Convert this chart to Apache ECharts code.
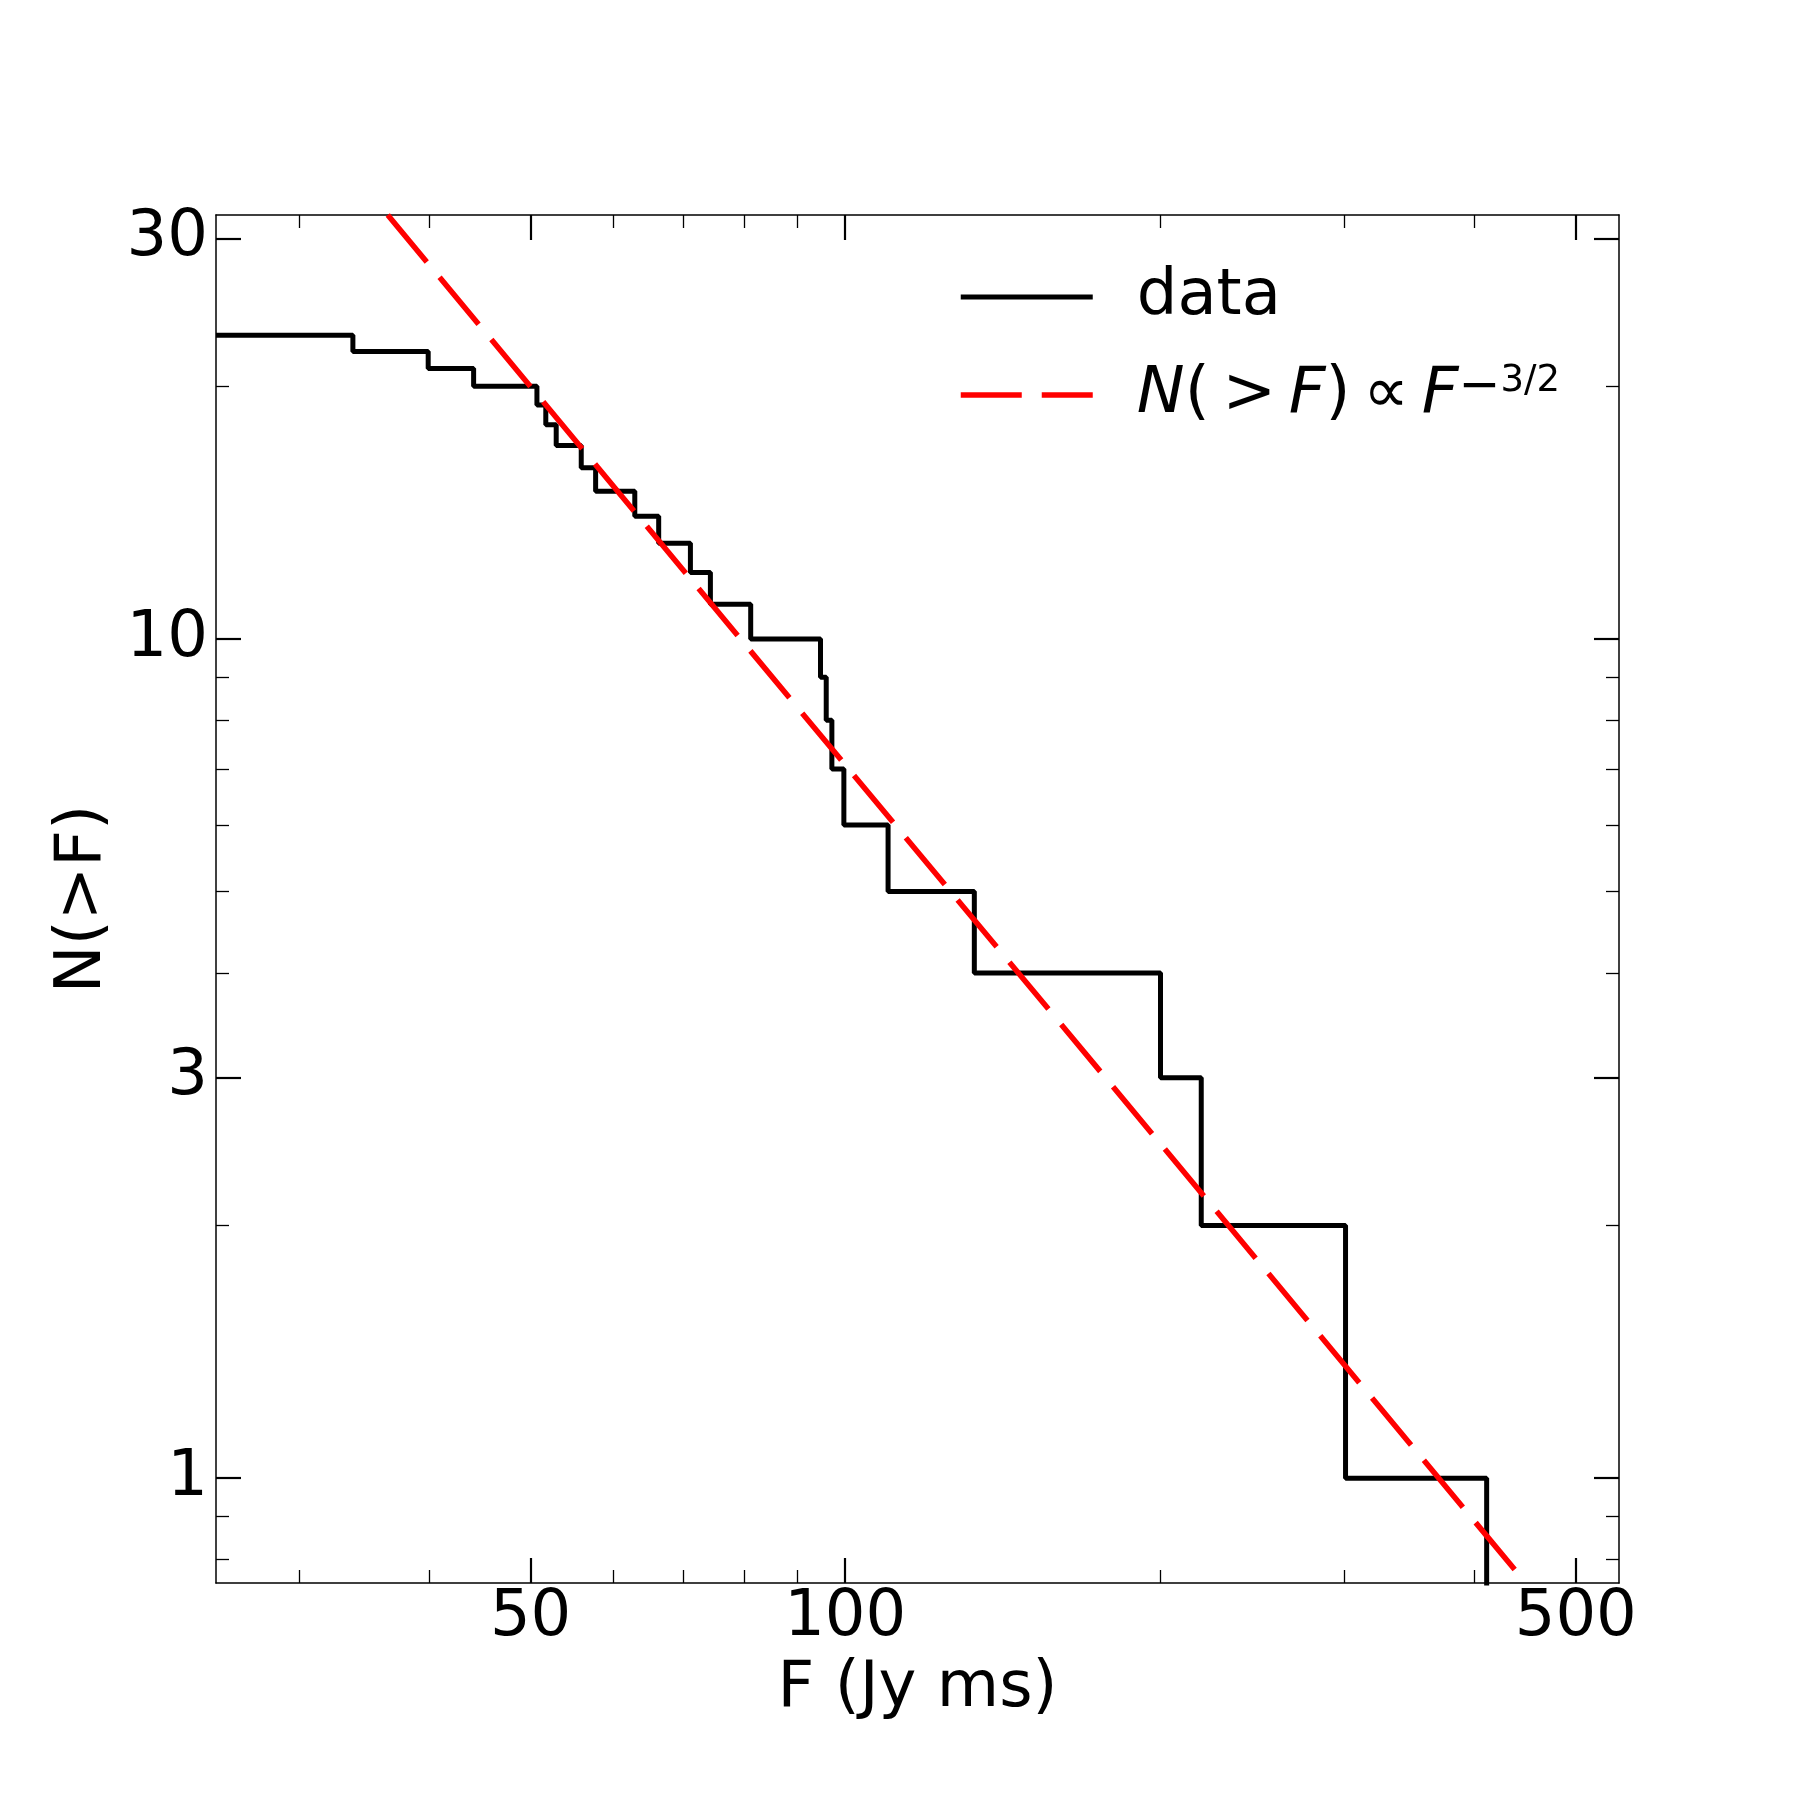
<!DOCTYPE html>
<html>
<head>
<meta charset="utf-8">
<script src="https://cdn.jsdelivr.net/npm/echarts@6.0.0/dist/echarts.min.js"></script>
<style>
  html, body { margin: 0; padding: 0; background: #fff; }
  #main { width: 1800px; height: 1800px; }
</style>
</head>
<body>
<div id="main"></div>
<script>
// cumulative count N(>F): flux where each step starts, and the count to its right
var fluxSteps = [25, 33.8, 39.9, 44.1, 50.7, 51.7, 52.9, 55.9, 57.7, 62.9, 66.3, 71.1, 74.3,
  81.2, 94.7, 95.9, 97.1, 99.7, 109.9, 132.9, 200.3, 219.1, 301.1, 410.9];
// last entry drops to zero, below the axis floor
var countAbove = [23, 22, 21, 20, 19, 18, 17, 16, 15, 14, 13, 12, 11,
  10, 9, 8, 7, 6, 5, 4, 3, 2, 1, 0.5];

// F^-3/2 reference line, read at the plot edges
var fitFlux = [36.5, 448];
var fitCount = [32, 0.75];

var xMajor = [50, 100, 500];
var xMinor = [30, 40, 60, 70, 80, 90, 200, 300, 400];
var yMajor = [1, 3, 10, 30];
var yMinor = [0.8, 0.9, 2, 4, 5, 6, 7, 8, 9, 20];

var FONT = 'DejaVu Sans';
var THIN = '\u2009';

var stepData = fluxSteps.map(function (f, i) { return [f, countAbove[i]]; });
var fitData = fitFlux.map(function (f, i) { return [f, fitCount[i]]; });

function logAxis(dim, pos, ticks, len, tickWidth, opts) {
  var ax = {
    type: 'log',
    logBase: 10,
    position: pos,
    min: dim === 'x' ? 25 : 0.75,
    max: dim === 'x' ? 550 : 32,
    axisLine: { show: !!opts.line, onZero: false, lineStyle: { color: '#000', width: 1.5 } },
    axisTick: {
      show: true, inside: true, length: len, customValues: ticks,
      lineStyle: { color: '#000', width: tickWidth }
    },
    axisLabel: { show: false },
    splitLine: { show: false },
    minorTick: { show: false },
    minorSplitLine: { show: false }
  };
  if (opts.labels) {
    ax.axisLabel = {
      show: true, customValues: ticks, color: '#000',
      fontFamily: FONT, fontSize: 64, margin: opts.margin
    };
  }
  if (opts.name) {
    ax.name = opts.name;
    ax.nameLocation = 'middle';
    ax.nameGap = opts.nameGap;
    ax.nameTextStyle = { color: '#000', fontFamily: FONT, fontSize: 64 };
    if (dim === 'y') ax.nameRotate = 90;
  }
  return ax;
}

var chart = echarts.init(document.getElementById('main'), null, { renderer: 'canvas' });
chart.setOption({
  animation: false,
  backgroundColor: '#fff',
  grid: { left: 216, right: 181, top: 215, bottom: 217, containLabel: false },
  xAxis: [
    logAxis('x', 'bottom', xMajor, 25, 2.2, { line: true, labels: true, margin: 3, name: 'F (Jy ms)', nameGap: 74 }),
    logAxis('x', 'bottom', xMinor, 13, 1.3, {}),
    logAxis('x', 'top', xMajor, 25, 2.2, { line: true }),
    logAxis('x', 'top', xMinor, 13, 1.3, {})
  ],
  yAxis: [
    logAxis('y', 'left', yMajor, 25, 2.2, { line: true, labels: true, margin: 8, name: 'N(>F)', nameGap: 91 }),
    logAxis('y', 'left', yMinor, 13, 1.3, {}),
    logAxis('y', 'right', yMajor, 25, 2.2, { line: true }),
    logAxis('y', 'right', yMinor, 13, 1.3, {})
  ],
  legend: {
    orient: 'vertical',
    left: 958,
    top: 265,
    padding: 0,
    itemGap: 34,
    itemWidth: 132,
    itemHeight: 20,
    itemStyle: { opacity: 0 },
    lineStyle: { width: 'inherit' },
    formatter: function (name) {
      if (name === 'data') return name;
      return '{i|N}(' + THIN + '>' + THIN + '{i|F})' + THIN + '∝' + THIN + '{i|F}{m|−}{sup|3/2}';
    },
    textStyle: {
      color: '#000', fontFamily: FONT, fontSize: 64, lineHeight: 64,
      padding: [0, 0, 0, 39],
      rich: {
        i: { fontStyle: 'italic', fontFamily: FONT, fontSize: 64, lineHeight: 64, color: '#000' },
        m: { fontFamily: FONT, fontSize: 50, lineHeight: 30, verticalAlign: 'top', color: '#000' },
        sup: { fontFamily: FONT, fontSize: 37, lineHeight: 26, verticalAlign: 'top', color: '#000' }
      }
    },
    data: ['data', 'N(>F) ∝ F^(-3/2)']
  },
  series: [
    {
      name: 'data',
      type: 'line',
      step: 'end',
      xAxisIndex: 0,
      yAxisIndex: 0,
      symbol: 'none',
      clip: true,
      lineStyle: { color: '#000', width: 5 },
      itemStyle: { color: '#000' },
      data: stepData,
      z: 3
    },
    {
      name: 'N(>F) ∝ F^(-3/2)',
      type: 'line',
      xAxisIndex: 0,
      yAxisIndex: 0,
      symbol: 'none',
      clip: true,
      lineStyle: { color: '#ff0000', width: 5.5, type: [61, 20], cap: 'butt' },
      itemStyle: { color: '#ff0000' },
      data: fitData,
      z: 4
    }
  ]
});
</script>
</body>
</html>
